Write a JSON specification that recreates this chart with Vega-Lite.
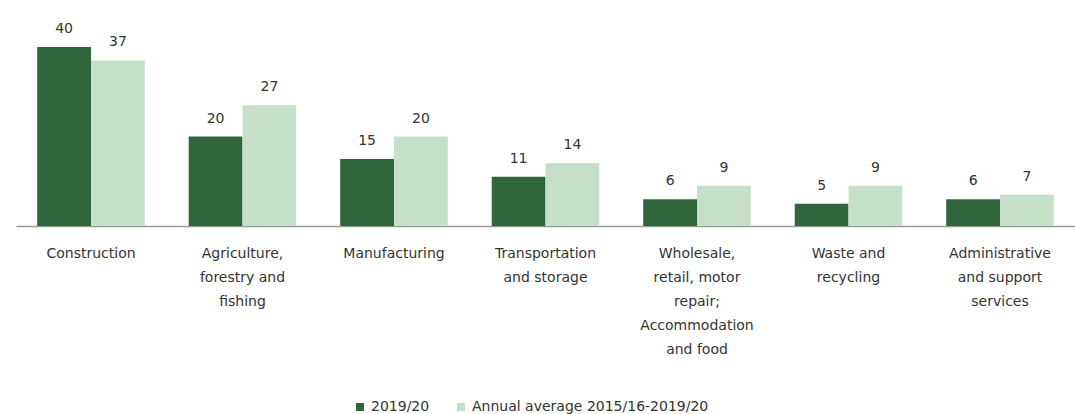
{
  "$schema": "https://vega.github.io/schema/vega-lite/v6.json",
  "width": 1059,
  "height": 179,
  "autosize": "none",
  "padding": {"left": 16, "top": 47, "right": 0, "bottom": 188},
  "background": "white",
  "config": {"view": {"stroke": null}, "font": "DejaVu Sans"},
  "data": {"values": [
    {"sector": "Construction", "series": "2019/20", "value": 40},
    {"sector": "Construction", "series": "Annual average 2015/16-2019/20", "value": 37},
    {"sector": "Agriculture,|forestry and|fishing", "series": "2019/20", "value": 20},
    {"sector": "Agriculture,|forestry and|fishing", "series": "Annual average 2015/16-2019/20", "value": 27},
    {"sector": "Manufacturing", "series": "2019/20", "value": 15},
    {"sector": "Manufacturing", "series": "Annual average 2015/16-2019/20", "value": 20},
    {"sector": "Transportation|and storage", "series": "2019/20", "value": 11},
    {"sector": "Transportation|and storage", "series": "Annual average 2015/16-2019/20", "value": 14},
    {"sector": "Wholesale,|retail, motor|repair;|Accommodation|and food", "series": "2019/20", "value": 6},
    {"sector": "Wholesale,|retail, motor|repair;|Accommodation|and food", "series": "Annual average 2015/16-2019/20", "value": 9},
    {"sector": "Waste and|recycling", "series": "2019/20", "value": 5},
    {"sector": "Waste and|recycling", "series": "Annual average 2015/16-2019/20", "value": 9},
    {"sector": "Administrative|and support|services", "series": "2019/20", "value": 6},
    {"sector": "Administrative|and support|services", "series": "Annual average 2015/16-2019/20", "value": 7}
  ]},
  "encoding": {
    "x": {
      "field": "sector", "type": "nominal", "sort": null,
      "scale": {"paddingInner": 0.29, "paddingOuter": 0.14},
      "axis": {
        "title": null, "labelAngle": 0, "ticks": false,
        "domainColor": "#9a9a9a", "domainWidth": 1.5,
        "labelExpr": "split(datum.value, '|')",
        "labelFont": "DejaVu Sans", "labelFontSize": 14, "labelColor": "#333333",
        "labelLineHeight": 24, "labelPadding": 20, "labelLimit": 200,
        "labelBaseline": "top"
      }
    },
    "xOffset": {"field": "series", "type": "nominal", "scale": {"paddingInner": 0}},
    "y": {
      "field": "value", "type": "quantitative",
      "scale": {"domain": [0, 40]},
      "axis": null
    }
  },
  "layer": [
    {
      "mark": {"type": "bar"},
      "encoding": {
        "color": {
          "field": "series", "type": "nominal",
          "scale": {"domain": ["2019/20", "Annual average 2015/16-2019/20"], "range": ["#30653b", "#c6dfc8"]},
          "legend": {
            "title": null, "orient": "none", "direction": "horizontal",
            "legendX": 337, "legendY": 353,
            "symbolType": "square", "symbolSize": 64, "symbolStrokeWidth": 0,
            "labelFont": "DejaVu Sans", "labelFontSize": 14, "labelColor": "#333333",
            "labelLimit": 400, "columnPadding": 24
          }
        }
      }
    },
    {
      "mark": {"type": "text", "baseline": "bottom", "dy": -11, "font": "DejaVu Sans", "fontSize": 14, "color": "#333333"},
      "encoding": {"text": {"field": "value", "type": "quantitative"}}
    }
  ]
}
